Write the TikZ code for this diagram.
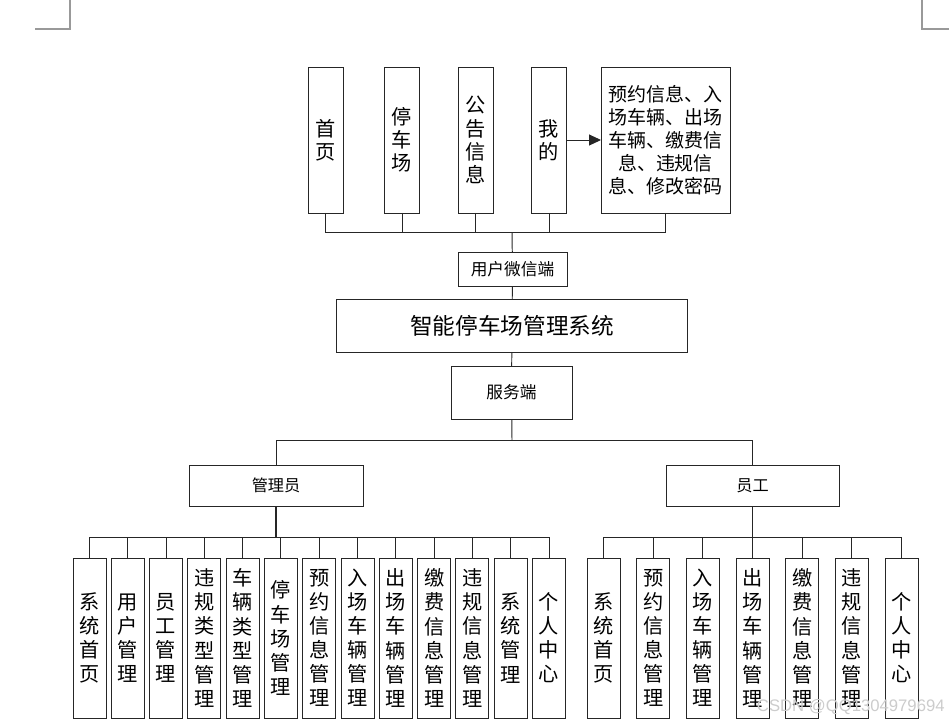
\documentclass[tikz,border=0pt]{standalone}
\usepackage{fontspec}
\newfontfamily\cjk{Noto Sans CJK SC}
\newfontfamily\wmfont{Liberation Sans}
\usetikzlibrary{positioning,arrows.meta}

\begin{document}
\begin{tikzpicture}[
    x=0.02cm, y=-0.02cm,
    box/.style={rectangle, draw=black!85, line width=0.55pt, fill=white, align=center, inner sep=1pt, outer sep=0pt},
    tbox/.style={box, minimum width=0.7cm, minimum height=2.92cm, font=\cjk\fontsize{11.5}{13.2}\selectfont},
    vbox/.style={box, minimum width=0.66cm, minimum height=3.2cm, font=\cjk\fontsize{11.5}{13.7}\selectfont},
    hbox/.style={box, font=\cjk\fontsize{9.5}{11}\selectfont},
    conn/.style={draw=black!85, line width=0.55pt},
    arr/.style={conn, -{Triangle[length=2.4mm, width=2.2mm]}}
]
    \useasboundingbox (0,0) rectangle (949,725);

    % page corner marks
    \draw[gray!80, line width=0.6pt] (70,0) -- (70,29) -- (35,29);
    \draw[gray!80, line width=0.6pt] (922,0) -- (922,29) -- (949,29);

    % user side
    \node[tbox] (home) at (325.5,140) {首\\页};
    \node[tbox] (lot) at (402,140) {停\\车\\场};
    \node[tbox] (notice) at (475.5,140) {公\\告\\信\\息};
    \node[tbox] (mine) at (549,140) {我\\的};
    \node[box, minimum width=2.58cm, minimum height=2.92cm, font=\cjk\fontsize{10.8}{13.1}\selectfont] (mineinfo) at (665.5,140)
        {预约信息、入\\场车辆、出场\\车辆、缴费信\\息、违规信\\息、修改密码};

    % centre column
    \node[hbox, minimum width=2.18cm, minimum height=0.68cm] (wechat) at (512.5,269) {用户微信端};
    \node[box, minimum width=7.04cm, minimum height=1.06cm, font=\cjk\fontsize{12.9}{14}\selectfont] (system) at (512,325.5) {智能停车场管理系统};
    \node[hbox, minimum width=2.42cm, minimum height=1.06cm] (server) at (511.5,392.5) {服务端};
    \node[hbox, minimum width=3.48cm, minimum height=0.82cm, font=\cjk\fontsize{9.2}{11}\selectfont] (admin) at (276,485.5) {管理员};
    \node[hbox, minimum width=3.46cm, minimum height=0.82cm, font=\cjk\fontsize{9.2}{11}\selectfont] (staff) at (752.5,485.5) {员工};

    % admin modules
    \node[vbox] (a1) at (89.5,638) {系\\统\\首\\页};
    \node[vbox, right=0.106cm of a1] (a2) {用\\户\\管\\理};
    \node[vbox, right=0.106cm of a2] (a3) {员\\工\\管\\理};
    \node[vbox, right=0.106cm of a3] (a4) {违\\规\\类\\型\\管\\理};
    \node[vbox, right=0.106cm of a4] (a5) {车\\辆\\类\\型\\管\\理};
    \node[vbox, right=0.106cm of a5] (a6) {停\\车\\场\\管\\理};
    \node[vbox, right=0.106cm of a6] (a7) {预\\约\\信\\息\\管\\理};
    \node[vbox, right=0.106cm of a7] (a8) {入\\场\\车\\辆\\管\\理};
    \node[vbox, right=0.106cm of a8] (a9) {出\\场\\车\\辆\\管\\理};
    \node[vbox, right=0.106cm of a9] (a10) {缴\\费\\信\\息\\管\\理};
    \node[vbox, right=0.106cm of a10] (a11) {违\\规\\信\\息\\管\\理};
    \node[vbox, right=0.106cm of a11] (a12) {系\\统\\管\\理};
    \node[vbox, right=0.106cm of a12] (a13) {个\\人\\中\\心};

    % staff modules
    \node[vbox] (s1) at (603.5,638) {系\\统\\首\\页};
    \node[vbox, right=0.334cm of s1] (s2) {预\\约\\信\\息\\管\\理};
    \node[vbox, right=0.334cm of s2] (s3) {入\\场\\车\\辆\\管\\理};
    \node[vbox, right=0.334cm of s3] (s4) {出\\场\\车\\辆\\管\\理};
    \node[vbox, right=0.334cm of s4] (s5) {缴\\费\\信\\息\\管\\理};
    \node[vbox, right=0.334cm of s5] (s6) {违\\规\\信\\息\\管\\理};
    \node[vbox, right=0.334cm of s6] (s7) {个\\人\\中\\心};

    \coordinate (ubus) at (512,232);
    \coordinate (sbus) at (512,440);
    \coordinate (abus) at (276,537);
    \coordinate (stbus) at (752.5,537);

    \draw[arr] (mine) -- (mineinfo);
    \draw[conn] (home.south) |- (ubus);
    \draw[conn] (lot.south) |- (ubus);
    \draw[conn] (notice.south) |- (ubus);
    \draw[conn] (mine.south) |- (ubus);
    \draw[conn] (mineinfo.south) |- (ubus);
    \draw[conn] (ubus) -- (wechat);
    \draw[conn] (wechat) -- (system);
    \draw[conn] (system) -- (server);
    \draw[conn] (server) -- (sbus);
    \draw[conn] (admin.north) |- (sbus);
    \draw[conn] (staff.north) |- (sbus);

    \draw[conn, line width=1.1pt] (admin) -- (abus);
    \draw[conn] (a1.north) |- (abus);
    \draw[conn] (a2.north) |- (abus);
    \draw[conn] (a3.north) |- (abus);
    \draw[conn] (a4.north) |- (abus);
    \draw[conn] (a5.north) |- (abus);
    \draw[conn] (a6.north) |- (abus);
    \draw[conn] (a7.north) |- (abus);
    \draw[conn] (a8.north) |- (abus);
    \draw[conn] (a9.north) |- (abus);
    \draw[conn] (a10.north) |- (abus);
    \draw[conn] (a11.north) |- (abus);
    \draw[conn] (a12.north) |- (abus);
    \draw[conn] (a13.north) |- (abus);

    \draw[conn] (staff) -- (stbus);
    \draw[conn] (s1.north) |- (stbus);
    \draw[conn] (s2.north) |- (stbus);
    \draw[conn] (s3.north) |- (stbus);
    \draw[conn] (s4.north) |- (stbus);
    \draw[conn] (s5.north) |- (stbus);
    \draw[conn] (s6.north) |- (stbus);
    \draw[conn] (s7.north) |- (stbus);

    % watermark
    \node[font=\wmfont\fontsize{9.5}{11}\selectfont, text=gray!40, anchor=east, inner sep=0pt] (mark) at (945,707) {CSDN @QQ1304979694};
\end{tikzpicture}
\end{document}
